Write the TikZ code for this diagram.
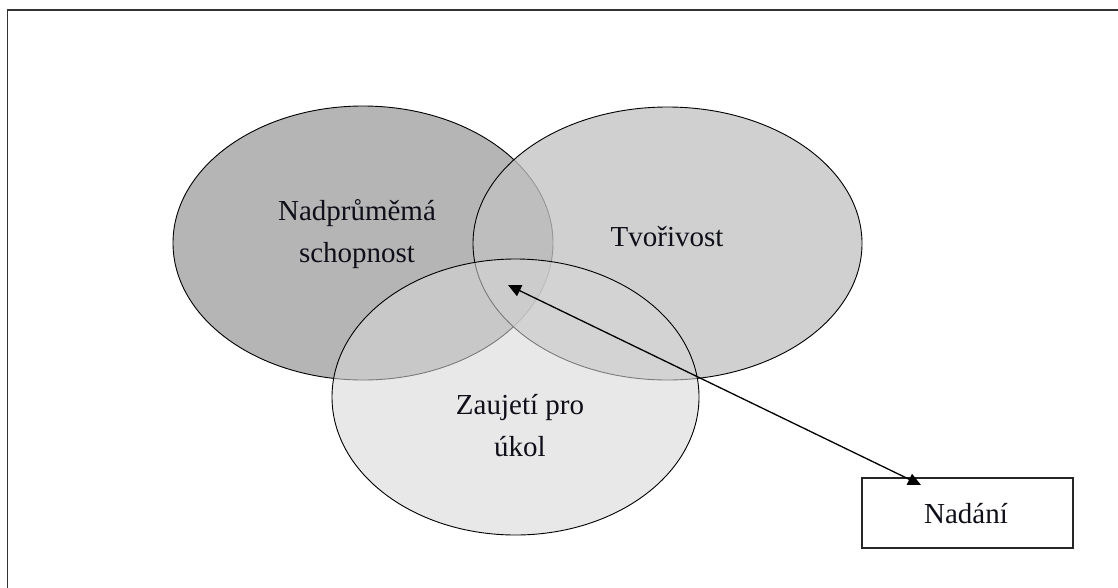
\documentclass[tikz,border=0pt]{standalone}
\usepackage{fontspec}
\setmainfont{Liberation Serif}
\usetikzlibrary{shapes.geometric,arrows.meta}
\definecolor{ellA}{RGB}{181,181,181}
\definecolor{ellB}{RGB}{194,194,194}
\definecolor{ellC}{RGB}{215,215,215}
\definecolor{txt}{RGB}{15,15,25}
\tikzset{
  venn/.style={ellipse, draw=black, line width=0.9pt, inner sep=0pt},
  lbl/.style={font=\fontsize{29}{42}\selectfont, text=txt, align=center, inner sep=0pt},
  boxnode/.style={draw=black!85, line width=1.3pt, minimum width=211pt, minimum height=70pt, inner sep=0pt, fill=white}
}
\begin{document}
\begin{tikzpicture}[x=1pt,y=-1pt]
\useasboundingbox (0,0) rectangle (1118,587);
\fill[white] (0,0) rectangle (1118,587);
\draw[line width=1.6pt, black!80] (1120,10) -- (7.5,10) -- (7.5,590);
% ellipses
\node[venn, fill=ellA, minimum width=380pt, minimum height=274pt] (abil) at (363,243) {};
\node[venn, fill=ellB, fill opacity=0.77, minimum width=389pt, minimum height=273pt] (crea) at (667.5,243.5) {};
\node[venn, fill=ellC, fill opacity=0.57, minimum width=367pt, minimum height=276pt] (task) at (515.5,397) {};
% labels
\node[lbl, anchor=base] (tA) at (357,262) {Nadprůměmá\\schopnost};
\node[lbl, anchor=base] (tB) at (667,246) {Tvořivost};
\node[lbl, anchor=base] (tC) at (520,456) {Zaujetí pro\\úkol};
% box
\node[boxnode] (nad) at (967.5,513) {};
\node[lbl, anchor=base] (tN) at (966,523) {Nadání};
% arrow
\coordinate (tipTop) at (508,285);
\coordinate (tipBot) at (921,485);
\draw[line width=1.3pt, {Triangle[length=13pt,width=12pt]}-{Triangle[length=13pt,width=12pt]}] (tipTop) -- (tipBot);
\end{tikzpicture}
\end{document}
